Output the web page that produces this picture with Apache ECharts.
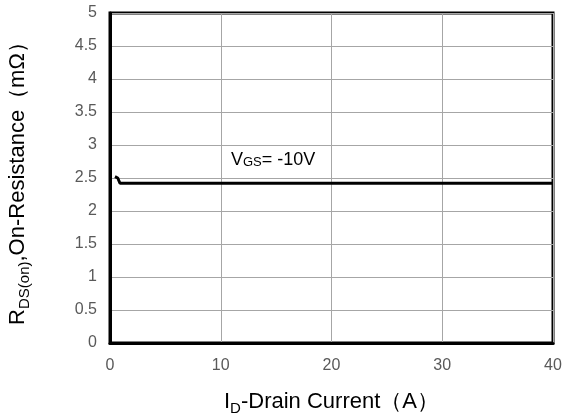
<!DOCTYPE html>
<html>
<head>
<meta charset="utf-8">
<script src="https://cdn.jsdelivr.net/npm/echarts@6/dist/echarts.min.js"></script>
<style>
  html, body { margin: 0; padding: 0; background: #fff; }
  #chart { width: 563px; height: 415px; }
</style>
</head>
<body>
<div id="chart"></div>
<script>
// RDS(on) vs drain current
var currentA = [0.45, 0.7, 0.9, 40];
var rdsOn = [2.52, 2.5, 2.42, 2.42];
var xTicks = [0, 10, 20, 30, 40];
var yTicks = [0, 0.5, 1, 1.5, 2, 2.5, 3, 3.5, 4, 4.5, 5];

var points = currentA.map(function (x, i) { return [x, rdsOn[i]]; });

var chart = echarts.init(document.getElementById('chart'));
var font = '"Liberation Sans", Arial, sans-serif';

chart.setOption({
    animation: false,
    grid: {
        left: 110,
        right: 10,
        top: 13,
        bottom: 72,
        outerBoundsMode: 'none',
        containLabel: false,
        show: true,
        borderColor: '#000',
        borderWidth: 3,
        backgroundColor: 'transparent'
    },
    xAxis: {
        type: 'value',
        min: xTicks[0],
        max: xTicks[xTicks.length - 1],
        interval: 10,
        axisLine: { show: true, lineStyle: { color: '#000', width: 3 } },
        axisTick: { show: false },
        axisLabel: { color: '#595959', fontSize: 16, fontFamily: font, margin: 15 },
        splitLine: { show: true, lineStyle: { color: '#a6a6a6', width: 1 } },
        name: '{n|I}{s|D}{n|-Drain Current（A）}',
        nameLocation: 'middle',
        nameGap: 45,
        nameTextStyle: {
            rich: {
                n: { fontSize: 22, color: '#000', fontFamily: font },
                s: { fontSize: 15, color: '#000', fontFamily: font, verticalAlign: 'bottom', padding: [13, 0, 0, 0] }
            }
        }
    },
    yAxis: {
        type: 'value',
        min: yTicks[0],
        max: yTicks[yTicks.length - 1],
        interval: 0.5,
        axisLine: { show: true, lineStyle: { color: '#000', width: 3 } },
        axisTick: { show: false },
        axisLabel: { color: '#595959', fontSize: 16, fontFamily: font, margin: 13 },
        splitLine: { show: true, lineStyle: { color: '#a6a6a6', width: 1 } },
        name: '{n|R}{s|DS(on)}{n|,On-Resistance（mΩ）}',
        nameLocation: 'middle',
        nameGap: 78,
        nameRotate: 90,
        nameTextStyle: {
            rich: {
                n: { fontSize: 22, color: '#000', fontFamily: font },
                s: { fontSize: 15, color: '#000', fontFamily: font, verticalAlign: 'bottom', padding: [13, 0, 0, 0] }
            }
        }
    },
    graphic: [{
        type: 'text',
        left: 231,
        top: 151,
        style: {
            text: '{n|V}{s|GS}{n|= -10V}',
            rich: {
                n: { fontSize: 18, fill: '#000', fontFamily: font },
                s: { fontSize: 13, fill: '#000', fontFamily: font, padding: [5, 0, 0, 0] }
            }
        }
    }],
    series: [{
        type: 'line',
        data: points,
        showSymbol: false,
        lineStyle: { color: '#000', width: 3 },
        z: 5
    }]
});
</script>
</body>
</html>
